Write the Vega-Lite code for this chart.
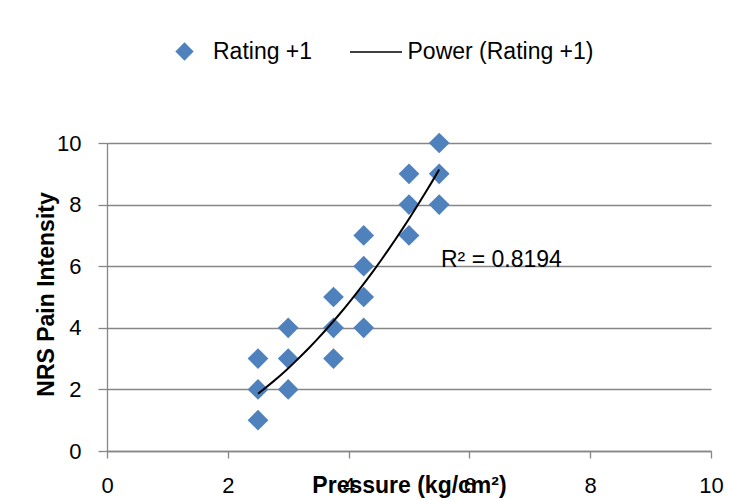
{
  "$schema": "https://vega.github.io/schema/vega-lite/v6.json",
  "width": 604,
  "height": 308,
  "autosize": {"type": "none"},
  "padding": {"left": 107, "top": 143, "right": 19, "bottom": 49},
  "background": "white",
  "config": {
    "view": {"stroke": null},
    "font": "Liberation Sans",
    "axis": {"labelFont": "Liberation Sans", "titleFont": "Liberation Sans", "labelColor": "black", "titleColor": "black"},
    "legend": {"labelFont": "Liberation Sans", "labelFontSize": 23, "labelColor": "black", "labelLimit": 400, "title": null}
  },
  "datasets": {
    "points": [
      {"pressure": 2.5, "rating": 1},
      {"pressure": 2.5, "rating": 2},
      {"pressure": 2.5, "rating": 3},
      {"pressure": 3, "rating": 2},
      {"pressure": 3, "rating": 3},
      {"pressure": 3, "rating": 4},
      {"pressure": 3.75, "rating": 3},
      {"pressure": 3.75, "rating": 4},
      {"pressure": 3.75, "rating": 5},
      {"pressure": 4.25, "rating": 4},
      {"pressure": 4.25, "rating": 5},
      {"pressure": 4.25, "rating": 6},
      {"pressure": 4.25, "rating": 7},
      {"pressure": 5, "rating": 7},
      {"pressure": 5, "rating": 8},
      {"pressure": 5, "rating": 9},
      {"pressure": 5.5, "rating": 8},
      {"pressure": 5.5, "rating": 9},
      {"pressure": 5.5, "rating": 10}
    ],
    "annotation": [
      {"pressure": 5.53, "rating": 5.98, "label": "R² = 0.8194"}
    ]
  },
  "encoding": {
    "x": {
      "field": "pressure", "type": "quantitative",
      "scale": {"domain": [0, 10], "nice": false, "zero": true},
      "axis": {
        "title": "Pressure (kg/cm²)",
        "values": [0, 2, 4, 6, 8, 10],
        "grid": false, "labelFlush": false,
        "domainColor": "#868686", "domainWidth": 1.3,
        "tickColor": "#868686", "tickWidth": 1.3, "tickSize": 7,
        "labelFontSize": 22, "labelPadding": 17,
        "titleFontSize": 23, "titleFontWeight": "bold",
        "titleBaseline": "alphabetic", "titleY": 41
      }
    },
    "y": {
      "field": "rating", "type": "quantitative",
      "scale": {"domain": [0, 10], "nice": false},
      "axis": {
        "title": "NRS Pain Intensity",
        "values": [0, 2, 4, 6, 8, 10],
        "grid": true, "gridColor": "#868686", "gridWidth": 1.3, "labelFlush": false,
        "domainColor": "#868686", "domainWidth": 1.3,
        "tickColor": "#868686", "tickWidth": 1.3, "tickSize": 9,
        "labelFontSize": 22, "labelPadding": 17,
        "titleFontSize": 23, "titleFontWeight": "bold",
        "titleBaseline": "alphabetic", "titleX": -54, "titleY": 151
      }
    }
  },
  "layer": [
    {
      "data": {"name": "points"},
      "mark": {"type": "point", "shape": "diamond", "filled": true, "size": 430, "opacity": 1, "color": "#4F81BD"},
      "encoding": {
        "shape": {
          "datum": "Rating +1", "type": "nominal",
          "scale": {"domain": ["Rating +1"], "range": ["diamond"]},
          "legend": {
            "orient": "none", "legendX": 66, "legendY": -103,
            "direction": "horizontal",
            "symbolSize": 335, "symbolFillColor": "#4F81BD", "symbolStrokeWidth": 0,
            "symbolOpacity": 1, "labelOffset": 17
          }
        }
      }
    },
    {
      "data": {"name": "points"},
      "transform": [
        {"regression": "rating", "on": "pressure", "method": "pow", "extent": [2.5, 5.5]}
      ],
      "mark": {"type": "line", "strokeWidth": 2},
      "encoding": {
        "stroke": {
          "datum": "Power (Rating +1)", "type": "nominal",
          "scale": {"domain": ["Power (Rating +1)"], "range": ["black"]},
          "legend": {
            "orient": "none", "legendX": 242, "legendY": -118,
            "direction": "horizontal",
            "symbolType": "stroke", "symbolSize": 2704, "symbolStrokeWidth": 1.5,
            "symbolStrokeColor": "black", "labelOffset": 4.5
          }
        }
      }
    },
    {
      "data": {"name": "annotation"},
      "mark": {"type": "text", "align": "left", "baseline": "alphabetic", "fontSize": 23, "font": "Liberation Sans", "color": "black"},
      "encoding": {
        "text": {"field": "label", "type": "nominal"}
      }
    }
  ]
}
